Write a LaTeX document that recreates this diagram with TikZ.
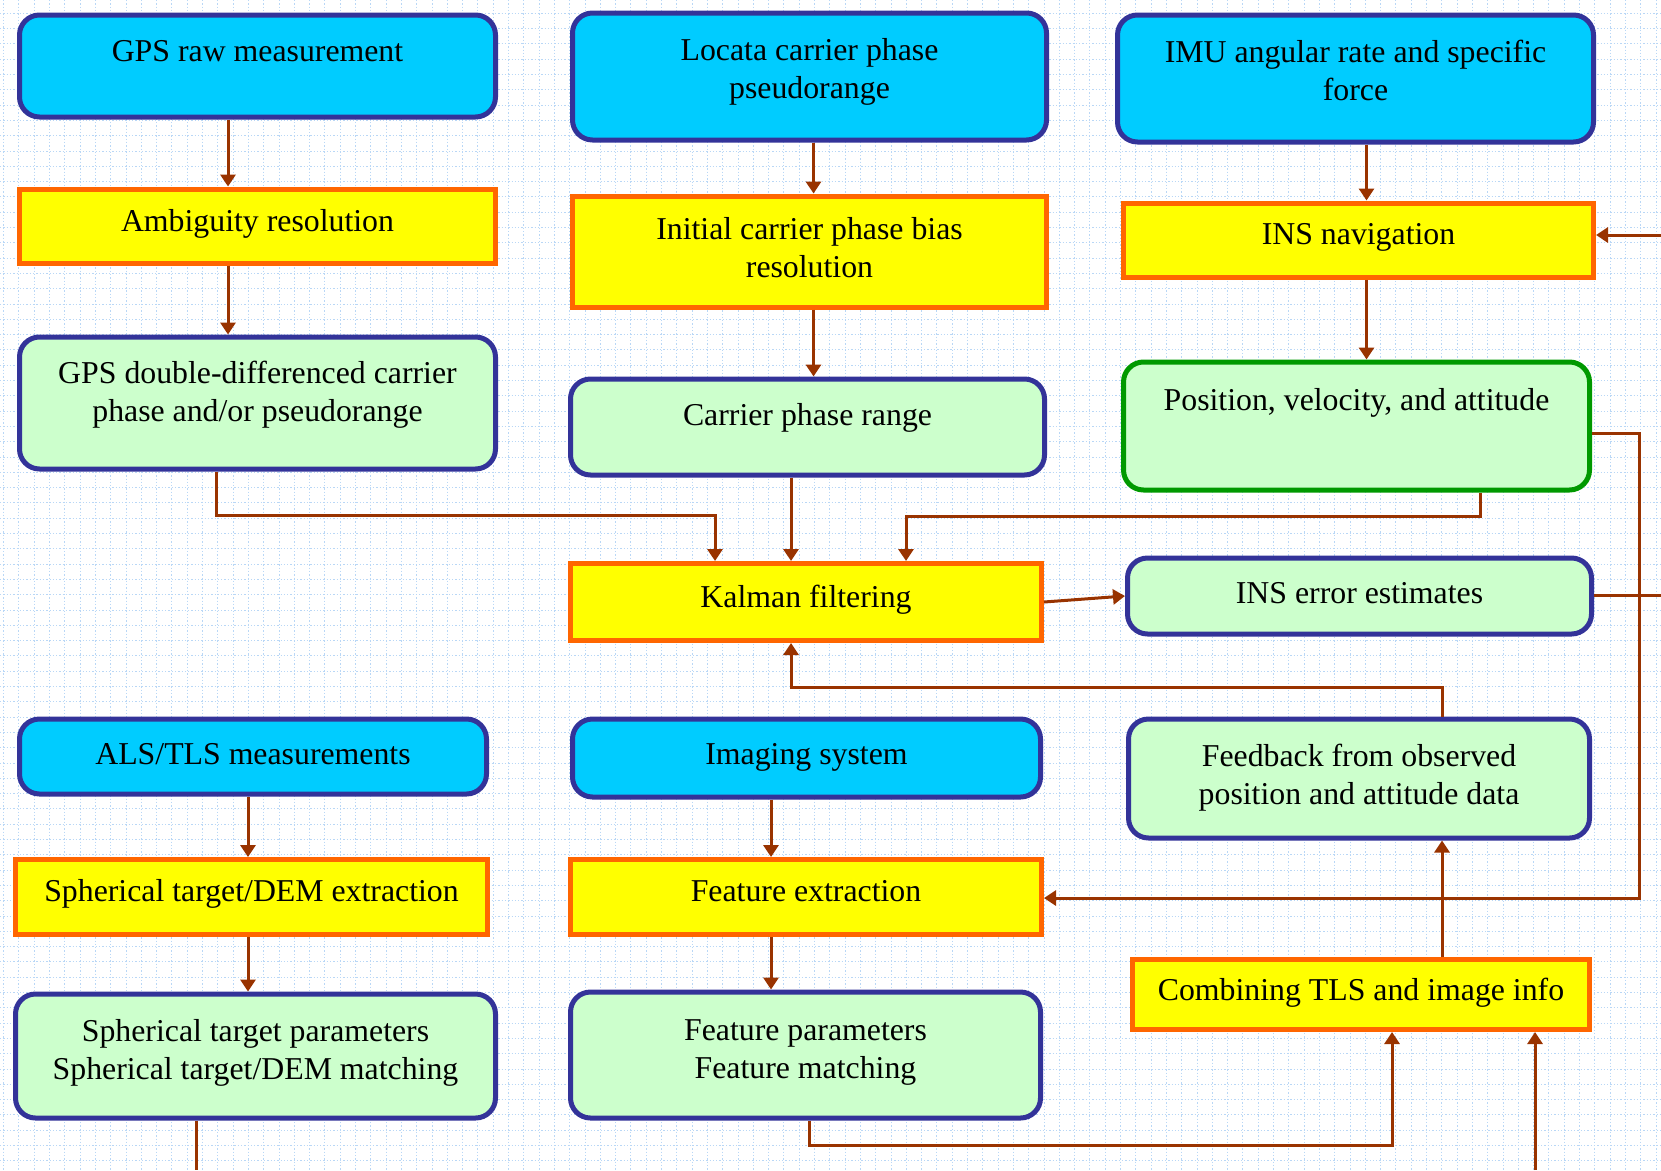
\documentclass[tikz,border=0pt]{standalone}
\usepackage{fontspec}
\setmainfont{Liberation Serif}
\usetikzlibrary{arrows.meta}
\definecolor{skyfill}{HTML}{00CCFF}
\definecolor{navyline}{HTML}{333399}
\definecolor{procfill}{HTML}{FFFF00}
\definecolor{procline}{HTML}{FF6600}
\definecolor{mintfill}{HTML}{CCFFCC}
\definecolor{greenline}{HTML}{009900}
\definecolor{flowline}{HTML}{993300}
\definecolor{gridblue}{HTML}{B9D7F6}
\tikzset{
  inbox/.style={draw=navyline, fill=skyfill, line width=5pt, rounded corners=20pt, inner sep=0pt},
  procbox/.style={draw=procline, fill=procfill, line width=5pt, inner sep=0pt},
  outbox/.style={draw=navyline, fill=mintfill, line width=5pt, rounded corners=20pt, inner sep=0pt},
  lbl/.style={align=center, inner sep=0pt, font=\fontsize{31.8}{38}\selectfont},
  flow/.style={draw=flowline, line width=3pt},
  arr/.style={flow, -{Triangle[length=12pt,width=15pt]}},
  gridline/.style={draw=gridblue, line width=1pt, dash pattern=on 1.3pt off 2pt},
}
\begin{document}
\begin{tikzpicture}[x=1pt, y=-1pt]
\useasboundingbox (0,0) rectangle (1661,1170);
\fill[white] (0,0) rectangle (1661,1170);
% dotted background grid
\foreach \i in {0,...,108} \draw[gridline] ({3.6+\i*15.3},0) -- ({3.6+\i*15.3},1170);
\foreach \j in {0,...,76} \draw[gridline] (0,{13.3+\j*15.3}) -- (1661,{13.3+\j*15.3});

% boxes
\node[inbox, minimum width=476pt, minimum height=102pt] (gpsraw) at (257.5,66) {};
\node[inbox, minimum width=474pt, minimum height=127pt] (locata) at (809.5,76.5) {};
\node[inbox, minimum width=476pt, minimum height=127pt] (imu) at (1355.5,78.5) {};
\node[procbox, minimum width=476pt, minimum height=74pt] (ambig) at (257.5,226) {};
\node[procbox, minimum width=474pt, minimum height=111pt] (initial) at (809.5,251.5) {};
\node[procbox, minimum width=470pt, minimum height=74pt] (insnav) at (1358.5,240) {};
\node[outbox, minimum width=476pt, minimum height=132pt] (gpsdd) at (257.5,403) {};
\node[outbox, minimum width=474pt, minimum height=96pt] (carrier) at (807.5,427) {};
\node[outbox, draw=greenline, minimum width=466pt, minimum height=128pt] (pv) at (1356.5,426) {};
\node[procbox, minimum width=471pt, minimum height=77pt] (kalman) at (806,602) {};
\node[outbox, minimum width=464pt, minimum height=76pt] (inserr) at (1359.5,596) {};
\node[outbox, minimum width=461pt, minimum height=119pt] (feedback) at (1359,778.5) {};
\node[inbox, minimum width=467pt, minimum height=75pt] (als) at (253,756.5) {};
\node[inbox, minimum width=468pt, minimum height=78pt] (imaging) at (806.5,758) {};
\node[procbox, minimum width=472pt, minimum height=75pt] (sphext) at (251.5,897) {};
\node[procbox, minimum width=471pt, minimum height=75pt] (featext) at (806,897) {};
\node[procbox, minimum width=457pt, minimum height=70pt] (combining) at (1361,994.5) {};
\node[outbox, minimum width=480pt, minimum height=124pt] (sphpar) at (255.5,1056) {};
\node[outbox, minimum width=470pt, minimum height=126pt] (featpar) at (805.5,1055) {};

% texts
\node[lbl] (gpsraw-t) at (257.5,51) {GPS raw measurement};
\node[lbl] (locata-t) at (809.5,72) {Locata carrier phase\\pseudorange};
\node[lbl] (imu-t) at (1355.5,70) {IMU angular rate and specific\\force};
\node[lbl] (ambig-t) at (257.5,224) {Ambiguity resolution};
\node[lbl] (initial-t) at (809.5,248) {Initial carrier phase bias\\resolution};
\node[lbl] (insnav-t) at (1358.5,237) {INS navigation};
\node[lbl] (gpsdd-t) at (257.5,395) {GPS double-differenced carrier\\phase and/or pseudorange};
\node[lbl] (carrier-t) at (807.5,417.5) {Carrier phase range};
\node[lbl] (pv-t) at (1356.5,403) {Position, velocity, and attitude};
\node[lbl] (kalman-t) at (806,600) {Kalman filtering};
\node[lbl] (inserr-t) at (1359.5,593) {INS error estimates};
\node[lbl] (feedback-t) at (1359,778) {Feedback from observed\\position and attitude data};
\node[lbl] (als-t) at (253,754) {ALS/TLS measurements};
\node[lbl] (imaging-t) at (806.5,757) {Imaging system};
\node[lbl] (sphext-t) at (251.5,894) {Spherical target/DEM extraction};
\node[lbl] (featext-t) at (806,891) {Feature extraction};
\node[lbl] (combining-t) at (1361,993) {Combining TLS and image info};
\node[lbl] (sphpar-t) at (255.5,1053) {Spherical target parameters\\Spherical target/DEM matching};
\node[lbl] (featpar-t) at (805.5,1053) {Feature parameters\\Feature matching};

% routing points
\coordinate (xa) at (228,0);
\coordinate (xb) at (813.5,0);
\coordinate (xc) at (1366.5,0);
\coordinate (xd) at (248,0);
\coordinate (xe) at (771,0);
\coordinate (xf) at (791,0);
\coordinate (insin) at (1661,235);
\coordinate (k1) at (216,515);
\coordinate (k2) at (715,515);
\coordinate (k3) at (1480,516);
\coordinate (k4) at (906,516);
\coordinate (r1) at (1639,433);
\coordinate (r2) at (1639,898);
\coordinate (errout) at (1661,595);
\coordinate (f1) at (1442,687);
\coordinate (f2) at (791,687);
\coordinate (g1) at (809,1145);
\coordinate (g2) at (1392,1145);
\coordinate (bot1) at (196,1170);
\coordinate (bot2) at (1535,1170);

% connectors
\draw[arr] (gpsraw.south -| xa) -- (ambig.north -| xa);
\draw[arr] (ambig.south -| xa) -- (gpsdd.north -| xa);
\draw[arr] (locata.south -| xb) -- (initial.north -| xb);
\draw[arr] (initial.south -| xb) -- (carrier.north -| xb);
\draw[arr] (imu.south -| xc) -- (insnav.north -| xc);
\draw[arr] (insnav.south -| xc) -- (pv.north -| xc);
\draw[arr] (insin) -- (insnav.east |- insin);
\draw[arr] (gpsdd.south -| k1) -- (k1) -- (k2) -- (kalman.north -| k2);
\draw[arr] (carrier.south -| xf) -- (kalman.north -| xf);
\draw[arr] (pv.south -| k3) -- (k3) -- (k4) -- (kalman.north -| k4);
\draw[arr] (pv.east |- r1) -- (r1) -- (r2) -- (featext.east |- r2);
\draw[arr] (kalman.east) -- (inserr.west);
\draw[flow] (inserr.east |- errout) -- (errout);
\draw[arr] (feedback.north -| f1) -- (f1) -- (f2) -- (kalman.south -| f2);
\draw[arr] (combining.north -| f1) -- (feedback.south -| f1);
\draw[arr] (als.south -| xd) -- (sphext.north -| xd);
\draw[arr] (sphext.south -| xd) -- (sphpar.north -| xd);
\draw[arr] (imaging.south -| xe) -- (featext.north -| xe);
\draw[arr] (featext.south -| xe) -- (featpar.north -| xe);
\draw[arr] (featpar.south -| g1) -- (g1) -- (g2) -- (combining.south -| g2);
\draw[arr] (bot2) -- (combining.south -| bot2);
\draw[flow] (sphpar.south -| bot1) -- (bot1);
\end{tikzpicture}
\end{document}
